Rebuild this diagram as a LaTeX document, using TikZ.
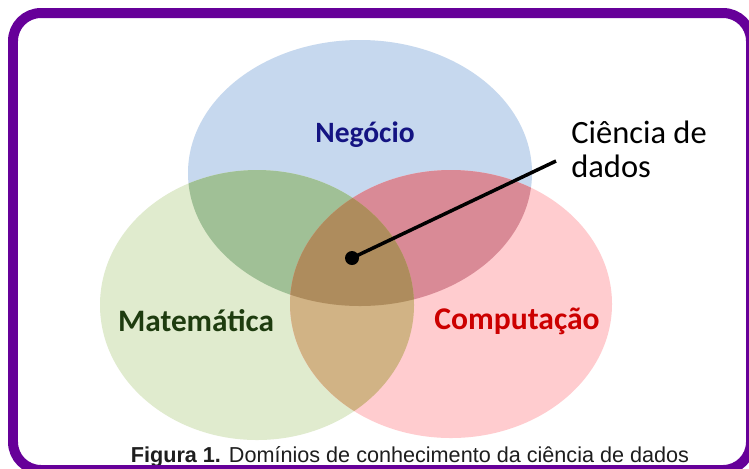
\documentclass[tikz,border=0pt]{standalone}
\usepackage{xcolor}
\usepackage{fontspec}
\setmainfont{Carlito}
\newfontfamily\capfont{Liberation Sans}
\usetikzlibrary{positioning}

\definecolor{framepurple}{RGB}{102,0,153}
\definecolor{negfill}{RGB}{198,216,238}
\definecolor{matfill}{RGB}{224,235,206}
\definecolor{compfill}{RGB}{255,204,207}
\definecolor{negmat}{RGB}{160,192,150}
\definecolor{negcomp}{RGB}{217,138,150}
\definecolor{matcomp}{RGB}{209,179,133}
\definecolor{allthree}{RGB}{174,140,93}
\definecolor{negtext}{RGB}{20,20,130}
\definecolor{mattext}{RGB}{30,60,15}
\definecolor{comptext}{RGB}{204,0,0}
\definecolor{captext}{RGB}{30,30,30}

\begin{document}
\begin{tikzpicture}[x=0.02cm, y=-0.02cm,
      area/.style={font=\bfseries\fontsize{18}{22}\selectfont, anchor=base, inner sep=0pt},
      frame/.style={draw=framepurple, line width=0.2cm, rounded corners=0.56cm}
    ]
      \useasboundingbox (0,0) rectangle (749,468);
      \clip (0,0) rectangle (749,468);
      \fill[white] (0,0) rectangle (749,468);

      % the three domains
      \fill[negfill]  (360,173) ellipse [x radius=172, y radius=133];
      \fill[matfill]  (257,305) ellipse [x radius=157, y radius=135];
      \fill[compfill] (451,304) ellipse [x radius=161, y radius=134];

      % overlaps
      \begin{scope}
        \clip (360,173) ellipse [x radius=172, y radius=133];
        \fill[negmat]  (257,305) ellipse [x radius=157, y radius=135];
        \fill[negcomp] (451,304) ellipse [x radius=161, y radius=134];
      \end{scope}
      \begin{scope}
        \clip (257,305) ellipse [x radius=157, y radius=135];
        \fill[matcomp] (451,304) ellipse [x radius=161, y radius=134];
        \clip (360,173) ellipse [x radius=172, y radius=133];
        \fill[allthree] (451,304) ellipse [x radius=161, y radius=134];
      \end{scope}

      % labels
      \node[area, text=negtext, font=\bfseries\fontsize{16.8}{22}\selectfont] (neg) at (365,142) {Negócio};
      \node[area, text=mattext, font=\bfseries\fontsize{17.8}{22}\selectfont] (mat) at (196,331) {Matemática};
      \node[area, text=comptext] (comp) at (517,329) {Computação};

      % data science
      \node[anchor=base west, align=left, inner sep=0pt, font=\fontsize{18.5}{19.3}\selectfont]
        (cd) at (571,177) {Ciência de\\dados};
      \coordinate (tip) at (556,161);
      \node[circle, fill=black, inner sep=0pt, minimum size=0.28cm] (dot) at (352,258) {};
      \draw[line width=2pt] (dot.center) -- (tip);

      % caption
      \node[anchor=base, inner sep=0pt, text=captext, font=\capfont\fontsize{12.3}{14}\selectfont]
        (cap) at (410,462) {\textbf{Figura 1.} Domínios de conhecimento da ciência de dados};

      \draw[frame] (13,13) rectangle (751,470);
    \end{tikzpicture}
\end{document}
